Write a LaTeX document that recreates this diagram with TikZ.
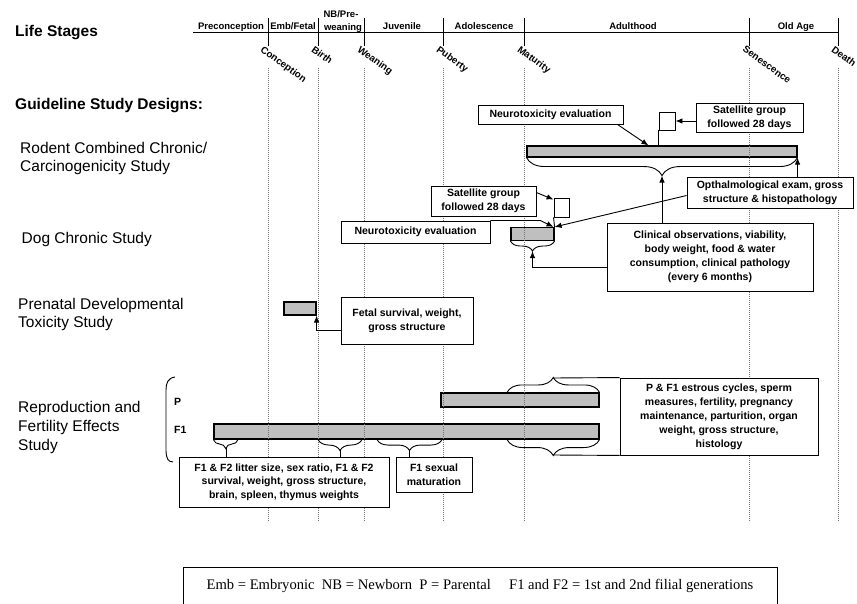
\documentclass[tikz,border=0pt]{standalone}
\usepackage{fontspec}
\setmainfont{Liberation Sans}
\newfontfamily\legendfont{Liberation Serif}
\usetikzlibrary{arrows.meta,decorations.pathreplacing,calc}

\begin{document}
\begin{tikzpicture}[x=1pt,y=-1pt,
  every node/.style={inner sep=0pt},
  box/.style={draw,line width=0.9pt,fill=white,align=center,font=\fontsize{10.5}{14}\selectfont\bfseries},
  bar/.style={draw,line width=1.1pt,fill=black!25},
  sq/.style={draw,line width=0.9pt,fill=white},
  guide/.style={black!55,line width=0.5pt,dash pattern=on 1pt off 1pt},
  arr/.style={line width=0.9pt,-{Latex[length=7pt,width=5.5pt]}},
  link/.style={line width=0.9pt},
  brc/.style={line width=0.9pt,decorate,decoration={brace,amplitude=#1}},
  stage/.style={font=\fontsize{9.5}{11}\selectfont\bfseries,anchor=base},
  event/.style={font=\fontsize{9.8}{11}\selectfont\bfseries,rotate=-36,anchor=north west},
  study/.style={font=\fontsize{15.5}{18}\selectfont,anchor=base west},
  heading/.style={font=\fontsize{15.5}{18}\selectfont\bfseries,anchor=base west},
  gen/.style={font=\fontsize{10.5}{12}\selectfont\bfseries,anchor=base west},
]
\clip (0,0) rectangle (857,604);

% ---------- life-stage timeline ----------
\node[heading] (lifestages) at (15,36.5) {Life Stages};
\draw[line width=1pt] (193,33) -- (838,33);
\foreach \x in {268,318,364,443,524,749,838}
  \draw[line width=1pt] (\x,18) -- (\x,46);

\node[stage] (s1) at (231,29.5) {Preconception};
\node[stage] (s2) at (293,29.5) {Emb/Fetal};
\node[stage] (s3a) at (341,18) {NB/Pre-};
\node[stage] (s3b) at (343,30.5) {weaning};
\node[stage] (s4) at (402,29.5) {Juvenile};
\node[stage] (s5) at (484,29.5) {Adolescence};
\node[stage] (s6) at (633,29.5) {Adulthood};
\node[stage] (s7) at (796,29.5) {Old Age};

\node[event] (e1) at (264,45) {Conception};
\node[event] (e2) at (315,45) {Birth};
\node[event] (e3) at (361,45) {Weaning};
\node[event] (e4) at (440,45) {Puberty};
\node[event] (e5) at (521,45) {Maturity};
\node[event] (e6) at (746,45) {Senescence};
\node[event] (e7) at (835,45) {Death};

% ---------- study labels ----------
\node[heading] (designs) at (15,110) {Guideline Study Designs:};
\node[study] (rod1) at (20,153.5) {Rodent Combined Chronic/};
\node[study] (rod2) at (20,171.5) {Carcinogenicity Study};
\node[study] (dog) at (21.5,243.5) {Dog Chronic Study};
\node[study] (pre1) at (18,309) {Prenatal Developmental};
\node[study] (pre2) at (18,327.5) {Toxicity Study};
\node[study] (rep1) at (18,412.5) {Reproduction and};
\node[study] (rep2) at (18,431.5) {Fertility Effects};
\node[study] (rep3) at (18,450) {Study};

% ---------- exposure bars ----------
\node[bar,minimum width=270pt,minimum height=11pt] (barR) at (662,151.5) {};
\node[bar,minimum width=43pt,minimum height=13pt] (barD) at (532.5,234) {};
\node[bar,minimum width=32pt,minimum height=13pt] (barPre) at (300,308.5) {};
\node[bar,minimum width=158pt,minimum height=14pt] (barP) at (520,400) {};
\node[bar,minimum width=385pt,minimum height=15pt] (barF1) at (406.5,431.5) {};

% ---------- dotted life-stage guides ----------
\foreach \x in {268,318,364,443,524,749,838}
  \draw[guide] (\x,68) -- (\x,522);

% ---------- rodent chronic / carcinogenicity ----------
\node[box,minimum width=145pt,minimum height=19pt] (neuroR) at (550.5,114.5) {Neurotoxicity evaluation};
\node[box,minimum width=107pt,minimum height=29pt] (satR) at (749.5,117.5) {Satellite group\\followed 28 days};
\node[sq,minimum width=16pt,minimum height=18pt] (sqR) at (667,121) {};
\node[box,minimum width=166pt,minimum height=31pt] (ophth) at (770,192.5) {Opthalmological exam, gross\\structure \& histopathology};

\draw[arr] ($(neuroR.south east)+(-6,0)$) -- ($(barR.north west)+(122,0)$);
\draw[link] (sqR.south west) -- (sqR.south west |- barR.north);
\draw[arr] (satR.west |- sqR.east) -- (sqR.east);
\draw[brc=18pt] (barR.south east) -- (barR.south west);
\coordinate (tipR) at ($(barR.south)+(0,18)$);
\draw[arr] (barR.south east |- ophth.north) -- (barR.south east);

% ---------- dog chronic ----------
\node[box,minimum width=105pt,minimum height=30pt] (satD) at (483.5,201) {Satellite group\\followed 28 days};
\node[sq,minimum width=15pt,minimum height=19pt] (sqD) at (561.5,207.5) {};
\node[box,minimum width=149pt,minimum height=22pt] (neuroD) at (415.5,232) {Neurotoxicity evaluation};
\node[box,minimum width=206pt,minimum height=68pt] (clin) at (710,257) {Clinical observations, viability,\\body weight, food \& water\\consumption, clinical pathology\\(every 6 months)};

\draw[link] (sqD.south west) -- (barD.north east);
\draw[arr] ($(satD.north east)+(0,7)$) -- ($(sqD.north west)+(0,2)$);
\draw[arr] (neuroD.north east) -- ++(50,0) -- ($(barD.north east)+(-1,0)$);
\draw[arr] ($(ophth.west)+(0,3)$) -- (barD.north east);
\draw[brc=10pt] (barD.south east) -- (barD.south west);
\coordinate (tipD) at ($(barD.south)+(0,10)$);
\draw[arr] ($(clin.south west)+(0,-24)$) -| (tipD);
\draw[arr] (tipR |- clin.north) -- (tipR);

% ---------- prenatal developmental toxicity ----------
\node[box,minimum width=132pt,minimum height=47pt] (fetal) at (407,320.5) {Fetal survival, weight,\\gross structure};
\draw[arr] ($(fetal.west)+(0,9.5)$) -| (barPre.south east);

% ---------- reproduction and fertility ----------
\draw[link] (175,377) .. controls (168,378) and (166,383) .. (166,390)
  -- (166,450) .. controls (166,458) and (168,462) .. (173,462);
\node[gen] (genP) at (174,405) {P};
\node[gen] (genF) at (174,433.5) {F1};

\node[box,minimum width=198pt,minimum height=77pt] (pf1) at (719,416.5) {P \& F1 estrous cycles, sperm\\measures, fertility, pregnancy\\maintenance, parturition, organ\\weight, gross structure,\\histology};
\node[box,minimum width=210pt,minimum height=50pt,font=\fontsize{10.5}{13.4}\selectfont\bfseries] (litter) at (284,482) {F1 \& F2 litter size, sex ratio, F1 \& F2\\survival, weight, gross structure,\\brain, spleen, thymus weights};
\node[box,minimum width=76pt,minimum height=35pt] (sexmat) at (434,474.5) {F1 sexual\\maturation};

\draw[brc=15pt] (barP.north west -| 507,0) -- (barP.north east);
\draw[link] (553,378) -- (pf1.north west);
\draw[brc=16pt] (barF1.south east) -- (barF1.south west -| 507,0);
\draw[link] (553,455) -- (pf1.south west);

\draw[brc=9pt] (barF1.south west -| 238,0) -- (barF1.south west);
\draw[link] (226,448) -- (litter.north -| 226,0);
\draw[brc=11pt] (barF1.south west -| 362,0) -- (barF1.south west -| 318,0);
\draw[link] (340,450) -- (litter.north -| 340,0);
\draw[brc=11pt] (barF1.south west -| 442,0) -- (barF1.south west -| 377,0);
\draw[link] (409.5,450) -- (sexmat.north -| 409.5,0);

% ---------- abbreviations ----------
\node[draw,line width=1pt,minimum width=594pt,minimum height=37pt,
  font=\legendfont\fontsize{14.6}{17}\selectfont] (legend) at (480,585.5)
  {Emb = Embryonic\ \ NB = Newborn\ \ P = Parental\quad\ F1 and F2 = 1st and 2nd filial generations};
\end{tikzpicture}
\end{document}
